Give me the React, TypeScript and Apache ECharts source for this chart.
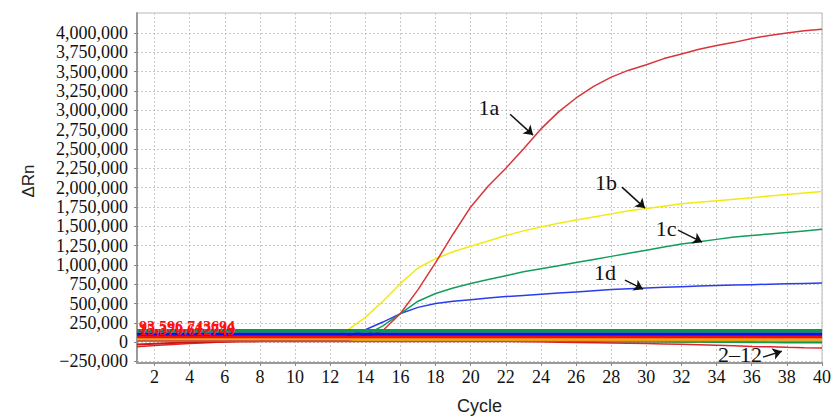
import React, { useEffect, useRef } from "react";
import * as echarts from "echarts";

const cycles = [1, 2, 3, 4, 5, 6, 7, 8, 9, 10, 11, 12, 13, 14, 15, 16, 17, 18, 19, 20, 21, 22, 23, 24, 25, 26, 27, 28, 29, 30, 31, 32, 33, 34, 35, 36, 37, 38, 39, 40];
const xTickValues = [2, 4, 6, 8, 10, 12, 14, 16, 18, 20, 22, 24, 26, 28, 30, 32, 34, 36, 38, 40];
const yTickValues = [-250000, 0, 250000, 500000, 750000, 1000000, 1250000, 1500000, 1750000, 2000000, 2250000, 2500000, 2750000, 3000000, 3250000, 3500000, 3750000, 4000000];

const curve1a = [20000, 20000, 20000, 20000, 20000, 20000, 20000, 20000, 20000, 20000, 20000, 20000, 25000, 60000, 150000, 370000, 680000, 1030000, 1400000, 1750000, 2020000, 2250000, 2500000, 2760000, 2980000, 3160000, 3310000, 3430000, 3520000, 3590000, 3670000, 3730000, 3790000, 3840000, 3880000, 3930000, 3970000, 4000000, 4030000, 4050000];
const curve1b = [25000, 25000, 25000, 25000, 25000, 25000, 25000, 25000, 25000, 25000, 25000, 50000, 160000, 320000, 530000, 760000, 960000, 1080000, 1170000, 1240000, 1310000, 1380000, 1440000, 1490000, 1540000, 1580000, 1620000, 1660000, 1700000, 1730000, 1760000, 1790000, 1810000, 1830000, 1850000, 1870000, 1890000, 1910000, 1930000, 1950000];
const curve1c = [30000, 30000, 30000, 30000, 30000, 30000, 30000, 30000, 30000, 30000, 30000, 30000, 30000, 90000, 210000, 370000, 530000, 630000, 700000, 760000, 810000, 860000, 910000, 950000, 990000, 1030000, 1070000, 1110000, 1150000, 1190000, 1230000, 1270000, 1300000, 1330000, 1360000, 1380000, 1400000, 1420000, 1440000, 1460000];
const curve1d = [30000, 30000, 30000, 30000, 30000, 30000, 30000, 30000, 30000, 30000, 30000, 30000, 80000, 160000, 260000, 370000, 450000, 500000, 530000, 550000, 570000, 590000, 605000, 620000, 635000, 650000, 665000, 680000, 690000, 700000, 710000, 718000, 725000, 732000, 738000, 744000, 750000, 755000, 760000, 765000];

const sampleRedA = [-60000, -45000, -30000, -17000, -7000, 5000, 15000, 22000, 27000, 30000, 32000, 33000, 33000, 33000, 33000, 32000, 30000, 27000, 24000, 20000, 16000, 12000, 8000, 4000, 0, -4000, -7000, -10000, -14000, -18000, -23000, -28000, -34000, -41000, -48000, -55000, -61000, -67000, -72000, -76000];
const sampleRedB = [-30000, -20000, -10000, -3000, 2000, 6000, 8000, 10000, 10000, 10000, 10000, 10000, 10000, 10000, 10000, 10000, 10000, 10000, 10000, 10000, 10000, 10000, 10000, 10000, 10000, 10000, 9000, 9000, 9000, 8000, 8000, 8000, 7000, 7000, 7000, 6000, 6000, 6000, 5000, 5000];
const sampleGreen = [15000, 15000, 15000, 15000, 15000, 15000, 15000, 15000, 15000, 15000, 15000, 15000, 15000, 15000, 15000, 15000, 15000, 15000, 15000, 15000, 15000, 15000, 15000, 15000, 15000, 15000, 13000, 11000, 9000, 7000, 5000, 3000, 1000, -1000, -3000, -4000, -5000, -7000, -8000, -9000];
const sampleOrange = [22000, 22000, 22000, 22000, 22000, 22000, 22000, 22000, 22000, 22000, 22000, 22000, 22000, 22000, 22000, 22000, 22000, 22000, 21000, 21000, 21000, 21000, 21000, 20000, 20000, 20000, 20000, 19000, 19000, 19000, 18000, 18000, 18000, 17000, 17000, 17000, 16000, 16000, 16000, 15000];

const thresholdLevels = [146000, 106000, 70000, 44000, 34000];
const thresholdLabelValues = [93596.743694, 15370.612749];
const thresholdLabelTexts = ["93,596.743694", "15,370.612749"];

const annotationTexts = ["1a", "1b", "1c", "1d", "2\u201312"];
const annotationTextAt = [[21.04, 3042000], [27.7, 2070000], [31.12, 1476000], [27.65, 906000], [35.33, -155000]];
const arrowFrom = [[22.24, 2950000], [28.61, 2006000], [31.8, 1450000], [28.78, 803000], [36.64, -194000]];
const arrowTo = [[23.55, 2680000], [29.92, 1735000], [33.17, 1294000], [29.81, 686000], [37.71, -117000]];

const pairs = (vals: number[]) => cycles.map((c, i) => [c, vals[i]]);

const SERIF = "'Liberation Serif', 'Times New Roman', serif";
const SANS = "'Liberation Sans', Arial, sans-serif";

const thresholdColors = ["#0a9a46", "#0b10f0", "#f01010", "#f0a020", "#b8d820"];
const thresholdWidths = [3.5, 3.5, 3, 2, 1.5];
const labelDistances = [0, 3];

function fmt(v: number) {
  const s = Math.abs(v).toLocaleString("en-US");
  return v < 0 ? "\u2212" + s : s;
}

export default function App() {
  const ref = useRef<HTMLDivElement>(null);
  useEffect(() => {
    const chart = echarts.init(ref.current!, null, { renderer: "svg" });
    const lineSeries = (name: string, vals: number[], color: string, width: number, z: number) => ({
      name,
      type: "line",
      data: pairs(vals),
      showSymbol: false,
      symbol: "none",
      lineStyle: { color, width },
      itemStyle: { color },
      z,
      silent: true,
    });
    const thresholdSeries: any[] = thresholdLevels.map((lv, i) => ({
      name: "thr" + i,
      type: "line",
      data: [[cycles[0], lv], [cycles[cycles.length - 1], lv]],
      showSymbol: false,
      symbol: "none",
      lineStyle: { color: thresholdColors[i], width: thresholdWidths[i] },
      z: i === 0 ? 8 : 6 - i * 0.1,
      silent: true,
    }));
    thresholdSeries[0].markLine = {
      silent: true,
      symbol: "none",
      z: 9,
      lineStyle: { color: "rgba(0,0,0,0)", width: 0 },
      label: {
        show: true,
        position: "insideStartTop",
        fontFamily: SERIF,
        fontWeight: "bold",
        fontSize: 16,
        color: "#ff1010",
        formatter: (p: any) => p.name,
      },
      data: thresholdLabelValues.map((v, i) => ({
        name: thresholdLabelTexts[i],
        yAxis: v,
        label: { distance: [2, labelDistances[i]] },
      })),
    };
    const option: any = {
      animation: false,
      backgroundColor: "#ffffff",
      grid: {
        left: 137,
        right: 9,
        top: 13,
        bottom: 56,
        outerBoundsMode: "none",
        containLabel: false,
        show: true,
        borderColor: "#b8b8b8",
        borderWidth: 1,
        backgroundColor: "transparent",
      },
      xAxis: {
        type: "value",
        min: 1,
        max: 40,
        name: "Cycle",
        nameLocation: "middle",
        nameGap: 34,
        nameTextStyle: { fontFamily: SANS, fontSize: 18, color: "#222" },
        axisLine: { show: true, onZero: false, lineStyle: { color: "#9a9a9a", width: 2 } },
        axisTick: { show: true, length: 3, customValues: xTickValues, lineStyle: { color: "#888" } },
        axisLabel: { customValues: xTickValues, margin: 5, fontFamily: SERIF, fontSize: 18, color: "#111" },
        splitLine: { show: true, lineStyle: { color: "#c9c9c9", type: [2, 2], width: 1 } },
      },
      yAxis: {
        type: "value",
        min: -270000,
        max: 4260000,
        name: "\u0394Rn",
        nameLocation: "middle",
        nameGap: 100,
        nameTextStyle: { fontFamily: SANS, fontSize: 17, color: "#222", padding: [0, 0, 0, 14] },
        axisLine: { show: true, onZero: false, lineStyle: { color: "#9a9a9a", width: 2 } },
        axisTick: { show: true, length: 3, customValues: yTickValues, lineStyle: { color: "#888" } },
        axisLabel: {
          customValues: yTickValues,
          margin: 9,
          fontFamily: SERIF,
          fontSize: 18,
          color: "#111",
          formatter: (v: number) => fmt(v),
        },
        splitLine: { show: true, lineStyle: { color: "#c9c9c9", type: [2, 2], width: 1 } },
      },
      series: [
        lineSeries("s-red-a", sampleRedA, "#e0252a", 1.5, 2),
        lineSeries("s-red-b", sampleRedB, "#c81818", 2, 2),
        lineSeries("s-green", sampleGreen, "#129a4a", 1.5, 2),
        lineSeries("s-orange", sampleOrange, "#f08c10", 1.5, 2),
        lineSeries("1d", curve1d, "#2a3cf0", 1.5, 3),
        lineSeries("1c", curve1c, "#129e5a", 1.5, 3),
        lineSeries("1b", curve1b, "#f2ea10", 1.5, 3),
        {
          ...lineSeries("1a", curve1a, "#d8353b", 1.5, 3),
          markLine: {
            silent: true,
            symbol: ["none", "arrow"],
            symbolSize: 9,
            lineStyle: { color: "#111", width: 1.5, type: "solid" },
            label: { show: false },
            data: arrowFrom.map((f, i) => [{ coord: f }, { coord: arrowTo[i] }]),
          },
          markPoint: {
            silent: true,
            symbol: "rect",
            symbolSize: 1,
            itemStyle: { color: "rgba(0,0,0,0)" },
            label: {
              show: true,
              position: "inside",
              fontFamily: SERIF,
              fontSize: 22,
              color: "#111",
              formatter: (p: any) => p.name,
            },
            data: annotationTexts.map((t, i) => ({ name: t, coord: annotationTextAt[i] })),
          },
        },
        ...thresholdSeries,
      ],
    };
    chart.setOption(option);
    return () => chart.dispose();
  }, []);
  return (
    <div
      ref={ref}
      style={{ position: "fixed", left: 0, top: 0, width: 831, height: 419, background: "#fff" }}
    />
  );
}
